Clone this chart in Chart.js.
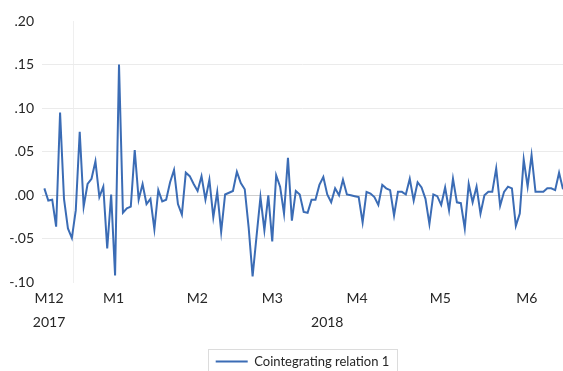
<!DOCTYPE html>
<html>
<head>
<meta charset="utf-8">
<script src="https://cdn.jsdelivr.net/npm/chart.js@4/dist/chart.umd.min.js"></script>
<style>
  html, body { margin: 0; padding: 0; background: #ffffff; }
  #wrap { width: 563px; height: 371px; }
</style>
</head>
<body>
<div id="wrap"><canvas id="c" width="563" height="371"></canvas></div>
<script>
// Daily cointegrating relation, Dec 2017 – Jun 2018 (one value per observation)
const relation1 = [
   0.008, -0.006, -0.005, -0.036,  0.095, -0.004, -0.038, -0.049, -0.017,  0.073,
  -0.013,  0.013,  0.019,  0.039, -0.002,  0.010, -0.061,  0.001, -0.092,  0.150,
  -0.020, -0.015, -0.013,  0.052, -0.005,  0.013, -0.010, -0.004, -0.039,  0.006,
  -0.007, -0.005,  0.015,  0.029, -0.010, -0.022,  0.026,  0.022,  0.013,  0.005,
   0.022, -0.005,  0.018, -0.025,  0.004, -0.042,  0.001,  0.003,  0.005,  0.027,
   0.014,  0.007, -0.037, -0.093, -0.047, -0.002, -0.040,  0.000, -0.053,  0.023,
   0.010, -0.021,  0.043, -0.029,  0.005,  0.001, -0.019, -0.020, -0.005, -0.005,
   0.012,  0.021,  0.001, -0.008,  0.008,  0.000,  0.018,  0.001,  0.000, -0.001,
  -0.002, -0.031,  0.004,  0.002, -0.002, -0.011,  0.012,  0.008,  0.006, -0.023,
   0.004,  0.004,  0.001,  0.019, -0.006,  0.015,  0.009, -0.004, -0.033,  0.001,
  -0.001, -0.011,  0.009, -0.017,  0.019, -0.008, -0.009, -0.038,  0.013, -0.008,
   0.010, -0.021,  0.000,  0.004,  0.004,  0.031, -0.012,  0.004,  0.010,  0.008,
  -0.035, -0.021,  0.041,  0.010,  0.046,  0.004,  0.004,  0.004,  0.008,  0.008,
   0.006,  0.026,  0.007
];

// Month labels and the observation index each one sits at
const monthLabels = ['M12', 'M1', 'M2', 'M3', 'M4', 'M5', 'M6'];
const monthIndex  = [1.2, 17.6, 38.9, 58.0, 79.6, 100.8, 122.8];

// Year labels (second row) and their observation index
const yearLabels = ['2017', '2018'];
const yearIndex  = [1.2, 72.0];

// Observation index of the 2017 | 2018 divider
const yearBreakIndex = 7.4;

const seriesName = 'Cointegrating relation 1';

// Build the x-axis tick list: month ticks (with year underneath where it applies),
// a standalone year tick, and the divider tick (no label).
const xTicks = monthLabels.map((m, i) => {
  const yi = yearIndex.indexOf(monthIndex[i]);
  return { value: monthIndex[i], label: [m, yi >= 0 ? yearLabels[yi] : ''] };
});
yearIndex.forEach((v, i) => {
  if (monthIndex.indexOf(v) < 0) xTicks.push({ value: v, label: ['', yearLabels[i]] });
});
xTicks.push({ value: yearBreakIndex, label: '' });
xTicks.sort((a, b) => a.value - b.value);

const textColor = '#262626';
const fontFamily = 'Lato, "Open Sans", sans-serif';

function fmtTick(v) {
  const s = (Math.round(v * 100) / 100).toFixed(2);
  return s.replace('0.', '.');
}

// Thin frame around the legend item
const legendFrame = {
  id: 'legendFrame',
  afterDraw(chart) {
    const lg = chart.legend;
    if (!lg || !lg.legendHitBoxes || !lg.legendHitBoxes.length) return;
    const hb = lg.legendHitBoxes[0];
    const ctx = chart.ctx;
    const x0 = Math.round(hb.left - 8) + 0.5;
    const x1 = Math.round(hb.left + hb.width + 8) + 0.5;
    const y0 = Math.round(lg.top) + 0.5;
    ctx.save();
    ctx.strokeStyle = '#dcdcdc';
    ctx.lineWidth = 1;
    ctx.strokeRect(x0, y0, x1 - x0, chart.height - y0 + 4);
    ctx.restore();
  }
};

new Chart(document.getElementById('c'), {
  type: 'line',
  data: {
    datasets: [{
      label: seriesName,
      data: relation1.map((v, i) => ({ x: i, y: v })),
      borderColor: '#3b6cb5',
      backgroundColor: '#3b6cb5',
      borderWidth: 2,
      pointRadius: 0,
      tension: 0,
      fill: false
    }]
  },
  options: {
    responsive: false,
    devicePixelRatio: 1,
    animation: false,
    layout: { padding: { top: 21, right: 0, bottom: 0, left: 0 } },
    plugins: {
      tooltip: { enabled: false },
      legend: {
        position: 'bottom',
        fullSize: false,
        maxHeight: 22,
        labels: {
          usePointStyle: true,
          pointStyle: 'line',
          pointStyleWidth: 32,
          padding: 6,
          color: textColor,
          font: { family: fontFamily, size: 13 }
        }
      }
    },
    scales: {
      x: {
        type: 'linear',
        min: -0.6,
        max: relation1.length - 1,
        border: { display: false },
        afterBuildTicks(scale) {
          scale.ticks = xTicks.map(t => ({ value: t.value }));
        },
        afterFit(scale) { scale.height = 66.5; },
        grid: {
          drawTicks: false,
          color: ctx => (ctx.tick && Math.abs(ctx.tick.value - yearBreakIndex) < 1e-9) ? '#efefef' : 'rgba(0,0,0,0)'
        },
        ticks: {
          autoSkip: false,
          maxRotation: 0,
          padding: 4,
          color: textColor,
          font: { family: fontFamily, size: 14, lineHeight: 1.7 },
          callback: (value, index) => xTicks[index] ? xTicks[index].label : ''
        }
      },
      y: {
        min: -0.1,
        max: 0.2,
        border: { display: false },
        afterFit(scale) { scale.width = 42; },
        grid: {
          drawTicks: false,
          color: ctx => {
            const v = ctx.tick ? ctx.tick.value : 0;
            if (Math.abs(v - 0.2) < 1e-9 || Math.abs(v + 0.1) < 1e-9) return 'rgba(0,0,0,0)';
            if (Math.abs(v) < 1e-9) return '#cfcfcf';
            return '#ebebeb';
          }
        },
        ticks: {
          stepSize: 0.05,
          padding: 8,
          color: textColor,
          font: { family: fontFamily, size: 14 },
          callback: v => fmtTick(v)
        }
      }
    }
  },
  plugins: [legendFrame]
});
</script>
</body>
</html>
